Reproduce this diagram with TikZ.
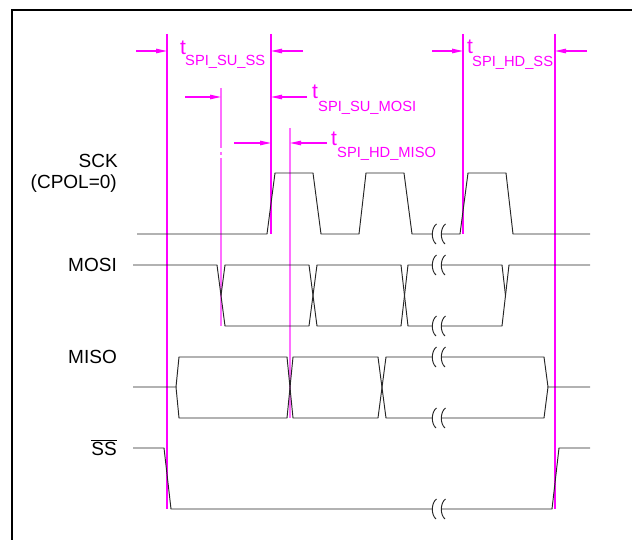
\documentclass[tikz,border=0pt]{standalone}
\usepackage{fontspec}
\setmainfont{Liberation Sans}
\usetikzlibrary{arrows.meta}
\definecolor{mag}{RGB}{255,0,255}
\definecolor{lmag}{RGB}{255,110,255}
\begin{document}
\begin{tikzpicture}[x=1pt,y=-1pt,
  sig/.style={line width=0.95pt,black!85},
  guide/.style={line width=1.1pt,mag},
  lguide/.style={line width=1.1pt,lmag},
  dim/.style={line width=1.1pt,mag,-{Triangle[length=11pt,width=4.5pt]}},
  lbl/.style={font=\fontsize{19}{21}\selectfont,anchor=base east,inner sep=0},
  tt/.style={font=\fontsize{21}{23}\selectfont,text=mag,anchor=base west,inner sep=0},
  sub/.style={font=\fontsize{14.7}{16}\selectfont,text=mag,anchor=base west,inner sep=0},
  brk/.pic={\draw[sig] (2.5,-10) .. controls (-3,-6) and (-3,6) .. (2,10);}
]
\useasboundingbox (0,0) rectangle (632,540);
% frame
\draw[line width=2pt] (12,541) -- (12,10) -- (633,10);

% signal labels
\node[lbl] (lsck) at (118,168) {SCK};
\node[lbl] (lcpol) at (117,189) {(CPOL=0)};
\node[lbl] (lmosi) at (117,272) {MOSI};
\node[lbl] (lmiso) at (117,363) {MISO};
\node[lbl] (lss) at (117,455) {$\overline{\mbox{SS}}$};

% guide lines
\coordinate (v1t) at (167,34);  \coordinate (v1b) at (167,509);
\coordinate (v2t) at (221,88);  \coordinate (v2b) at (221,326);
\coordinate (v3t) at (271,34);  \coordinate (v3b) at (271,234);
\coordinate (v4t) at (290,128); \coordinate (v4b) at (290,418);
\coordinate (v5t) at (463,34);  \coordinate (v5b) at (463,234);
\coordinate (v6t) at (555,34);  \coordinate (v6b) at (555,509);
\draw[guide] (v1t) -- (v1b);
\draw[lguide] (v2t) -- (221,148) (221,152) -- (221,155) (221,158) -- (v2b);
\draw[guide] (v3t) -- (v3b);
\draw[lguide] (v4t) -- (v4b);
\draw[guide] (v5t) -- (v5b);
\draw[guide] (v6t) -- (v6b);

% dimension arrows
\coordinate (a1) at (136,51);  \coordinate (a1e) at (167,51);
\coordinate (a2) at (303,51);  \coordinate (a2e) at (271,51);
\coordinate (b1) at (185,97);  \coordinate (b1e) at (221,97);
\coordinate (b2) at (307,97);  \coordinate (b2e) at (271,97);
\coordinate (c1) at (234,143); \coordinate (c1e) at (271,143);
\coordinate (c2) at (327,143); \coordinate (c2e) at (290,143);
\coordinate (d1) at (432,51);  \coordinate (d1e) at (463,51);
\coordinate (d2) at (587,51);  \coordinate (d2e) at (555,51);
\draw[dim] (a1) -- (a1e);
\draw[dim] (a2) -- (a2e);
\draw[dim] (b1) -- (b1e);
\draw[dim] (b2) -- (b2e);
\draw[dim] (c1) -- (c1e);
\draw[dim] (c2) -- (c2e);
\draw[dim] (d1) -- (d1e);
\draw[dim] (d2) -- (d2e);

% timing labels
\node[tt] (t1) at (180,55) {t};  \node[sub] (s1) at (185,66) {SPI\_SU\_SS};
\node[tt] (t2) at (312,99) {t};  \node[sub] (s2) at (318,112) {SPI\_SU\_MOSI};
\node[tt] (t3) at (331,146) {t}; \node[sub] (s3) at (337,158) {SPI\_HD\_MISO};
\node[tt] (t4) at (467,54) {t};  \node[sub] (s4) at (472,67) {SPI\_HD\_SS};

% SCK
\draw[sig] (137,234) -- (267,234) -- (275,173) -- (313,173) -- (321,234) -- (359,234)
  -- (366,173) -- (404,173) -- (412,234) -- (432,234);
\draw[sig] (441,234) -- (460,234) -- (468,173) -- (506,173) -- (513,234) -- (590,234);

% MOSI
\draw[sig] (133,265) -- (217,265) -- (225,326) -- (309,326) -- (317,265) -- (401,265)
  -- (408,326) -- (432,326);
\draw[sig] (441,326) -- (502,326) -- (509,265) -- (590,265);
\draw[sig] (221,295.5) -- (225,265) -- (309,265) -- (317,326) -- (401,326) -- (408,265) -- (432,265);
\draw[sig] (441,265) -- (502,265) -- (505.5,295.5);

% MISO
\draw[sig] (133,387) -- (176,387) -- (179,357) -- (287,357) -- (293,418) -- (378,418)
  -- (386,357) -- (432,357);
\draw[sig] (441,357) -- (544,357) -- (548,387) -- (590,387);
\draw[sig] (176,387) -- (179,418) -- (287,418) -- (293,357) -- (378,357) -- (386,418) -- (432,418);
\draw[sig] (441,418) -- (544,418) -- (548,387);

% SS
\draw[sig] (133,448) -- (164,448) -- (171,509) -- (432,509);
\draw[sig] (441,509) -- (552,509) -- (559,448) -- (590,448);

% breaks
\foreach \y in {234,265,326,357,418,509}{
  \pic at (434,\y) {brk};
  \pic at (443,\y) {brk};
}
\end{tikzpicture}
\end{document}
